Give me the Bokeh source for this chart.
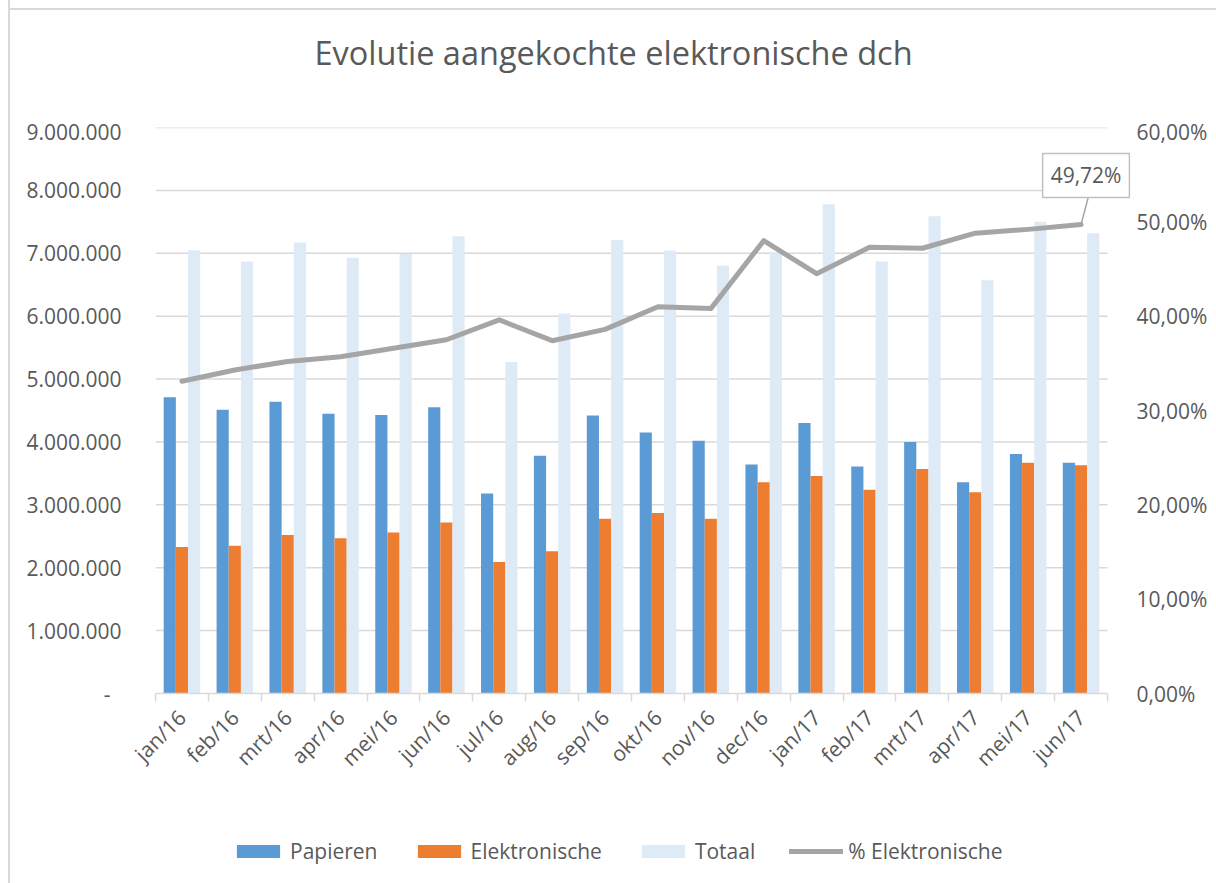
import math
from bokeh.plotting import figure
from bokeh.layouts import column
from bokeh.models import (ColumnDataSource, Range1d, LinearAxis, FixedTicker,
                          CustomJSTickFormatter, Legend, LegendItem, Label)
from bokeh.transform import dodge
from bokeh.embed import file_html
from bokeh.resources import INLINE

months = ["jan/16", "feb/16", "mrt/16", "apr/16", "mei/16", "jun/16", "jul/16", "aug/16",
          "sep/16", "okt/16", "nov/16", "dec/16", "jan/17", "feb/17", "mrt/17", "apr/17",
          "mei/17", "jun/17"]
papieren = [4710000, 4510000, 4640000, 4450000, 4430000, 4550000, 3180000, 3780000,
            4420000, 4150000, 4020000, 3640000, 4300000, 3610000, 4000000, 3360000,
            3810000, 3670000]
elektronische = [2330000, 2350000, 2520000, 2470000, 2560000, 2720000, 2090000, 2260000,
                 2780000, 2870000, 2780000, 3360000, 3460000, 3240000, 3570000, 3200000,
                 3670000, 3630000]
totaal = [7050000, 6870000, 7170000, 6930000, 6990000, 7270000, 5270000, 6040000,
          7210000, 7040000, 6800000, 7020000, 7780000, 6870000, 7590000, 6570000,
          7500000, 7320000]
pct_elektronisch = [0.331, 0.343, 0.352, 0.357, 0.366, 0.375, 0.396, 0.374, 0.386,
                    0.410, 0.408, 0.480, 0.445, 0.473, 0.472, 0.488, 0.492, 0.4972]
left_ticks = [0, 1000000, 2000000, 3000000, 4000000, 5000000, 6000000, 7000000,
              8000000, 9000000]
right_ticks = [0, 0.1, 0.2, 0.3, 0.4, 0.5, 0.6]
title_text = "Evolutie aangekochte elektronische dch"
series_names = ["Papieren", "Elektronische", "Totaal", "% Elektronische"]

TXT = "#595959"
GRID = "#d9d9d9"
FONT = "Open Sans"
C_PAP, C_ELE, C_TOT, C_PCT = "#5b9bd5", "#ed7d31", "#deebf7", "#a5a5a5"

W = 1216
H0, H1, H2 = 117, 667, 99
FL, FR = 155, 1130          # frame left / right edge (page pixels), shared by all strips
CAT_RIGHT = 1107            # right edge of the category area
LINE_V = "linear-gradient(#d9d9d9,#d9d9d9) 8px 0px / 2px 100% no-repeat"
LINE_H = "linear-gradient(#d9d9d9,#d9d9d9) 8px 8px / 100% 2px no-repeat"

n = len(months)
idx = list(range(n))
src = ColumnDataSource(dict(x=idx, pap=papieren, ele=elektronische, tot=totaal,
                            pct=pct_elektronisch))


def strip(height, top_line=False):
    f = figure(width=W, height=height, output_backend="svg", toolbar_location=None,
               x_range=Range1d(FL, FR), y_range=Range1d(height, 0),
               x_axis_type=None, y_axis_type=None, min_border_left=FL,
               min_border_right=W - FR, min_border_top=0, min_border_bottom=0)
    f.grid.visible = False
    f.outline_line_color = None
    f.background_fill_alpha = 0
    f.border_fill_alpha = 0
    bg = (LINE_H + ", " if top_line else "") + LINE_V + ", white"
    f.styles = {"background": bg}
    return f


# ---------------- title strip ----------------
p0 = strip(H0, top_line=True)
p0.add_layout(Label(x=613, y=52, text=title_text, text_align="center",
                    text_baseline="alphabetic", text_font=FONT,
                    text_font_size="32.5px", text_color=TXT))

# ---------------- main chart ----------------
px_per_cat = (CAT_RIGHT - FL) / n
p = figure(width=W, height=H1, output_backend="svg", toolbar_location=None,
           x_range=Range1d(-0.5, -0.5 + (FR - FL) / px_per_cat),
           y_range=Range1d(0, 9000000),
           min_border_left=FL, min_border_right=W - FR, min_border_top=10,
           min_border_bottom=90)
p.outline_line_color = None
p.background_fill_color = "white"
p.border_fill_alpha = 0
p.styles = {"background": LINE_V + ", white"}
p.extra_y_ranges = {"pct": Range1d(0, 0.6)}

xa = p.below[0]
ya = p.left[0]

p.xgrid.visible = False
p.ygrid.visible = False
p.segment(x0=[-0.5] * (len(left_ticks) - 1), x1=[n - 0.5] * (len(left_ticks) - 1),
          y0=left_ticks[1:], y1=left_ticks[1:], line_color=GRID, line_width=1.5)

w = 0.23
p.vbar(x=dodge("x", -w, range=p.x_range), top="pap", width=w, source=src,
       fill_color=C_PAP, line_color=None)
p.vbar(x="x", top="ele", width=w, source=src, fill_color=C_ELE, line_color=None)
p.vbar(x=dodge("x", w, range=p.x_range), top="tot", width=w, source=src,
       fill_color=C_TOT, line_color=None)
p.line(x="x", y="pct", source=src, y_range_name="pct", line_color=C_PCT,
       line_width=5, line_join="round", line_cap="round")

ya.ticker = FixedTicker(ticks=left_ticks)
ya.formatter = CustomJSTickFormatter(code="""
if (tick == 0) { return '-\\u00a0\\u00a0'; }
return String(Math.round(tick)).replace(/\\B(?=(\\d{3})+(?!\\d))/g, '.');
""")
ya.axis_line_color = None
ya.major_tick_line_color = None
ya.minor_tick_line_color = None
ya.major_label_text_font = FONT
ya.major_label_text_font_size = "21px"
ya.major_label_text_color = TXT
ya.major_label_standoff = 28

ra = LinearAxis(y_range_name="pct", ticker=FixedTicker(ticks=right_ticks),
                formatter=CustomJSTickFormatter(code="""
return (tick * 100).toFixed(2).replace('.', ',') + '%';
"""))
ra.axis_line_color = None
ra.major_tick_line_color = None
ra.minor_tick_line_color = None
ra.major_label_text_font = FONT
ra.major_label_text_font_size = "21px"
ra.major_label_text_color = TXT
ra.major_label_standoff = 0
p.add_layout(ra, "right")

xa.bounds = (-0.5, n - 0.5)
xa.ticker = FixedTicker(ticks=idx, minor_ticks=[i - 0.5 for i in range(n + 1)])
xa.major_label_overrides = {i: m for i, m in enumerate(months)}
xa.major_label_orientation = math.pi / 4
xa.major_label_text_font = FONT
xa.major_label_text_font_size = "21px"
xa.major_label_text_color = TXT
xa.major_label_standoff = 12
xa.major_tick_line_color = None
xa.minor_tick_line_color = GRID
xa.minor_tick_line_width = 1.5
xa.minor_tick_in = 0
xa.minor_tick_out = 8
xa.axis_line_color = GRID
xa.axis_line_width = 1.5

last = n - 1
p.segment(x0=[last], y0=[pct_elektronisch[last]], x1=[last + 0.15],
          y1=[pct_elektronisch[last] + 0.0317], y_range_name="pct",
          line_color=C_PCT, line_width=1.5)
p.add_layout(Label(x=last, y=pct_elektronisch[last], y_range_name="pct",
                   text=f"{pct_elektronisch[last]*100:.2f}".replace(".", ",") + "%",
                   x_offset=5, y_offset=49, text_align="center", text_baseline="middle",
                   text_font=FONT, text_font_size="21px", text_color=TXT,
                   background_fill_color="white", border_line_color="#bfbfbf",
                   border_line_width=1.5, padding=8))

# ---------------- legend strip ----------------
p2 = strip(H2)
offscreen = dict(x=[-10000], top=[-10000])
g_pap = p2.vbar(x="x", top="top", width=1, source=ColumnDataSource(offscreen),
                fill_color=C_PAP, line_color=None)
g_ele = p2.vbar(x="x", top="top", width=1, source=ColumnDataSource(offscreen),
                fill_color=C_ELE, line_color=None)
g_tot = p2.vbar(x="x", top="top", width=1, source=ColumnDataSource(offscreen),
                fill_color=C_TOT, line_color=None)
g_pct = p2.line(x="x", y="y", source=ColumnDataSource(dict(x=[-10000, -9999],
                                                           y=[-10000, -10000])),
                line_color=C_PCT, line_width=5, line_cap="round")
legend = Legend(items=[LegendItem(label=s, renderers=[r]) for s, r in
                       zip(series_names, [g_pap, g_ele, g_tot, g_pct])],
                orientation="horizontal", location=(235 - FL - 12, 10))
legend.glyph_width = 54
legend.glyph_height = 16
legend.label_standoff = 5
legend.spacing = 34
legend.padding = 8
legend.margin = 0
legend.label_text_font = FONT
legend.label_text_font_size = "21px"
legend.label_text_color = TXT
legend.border_line_alpha = 0
legend.background_fill_alpha = 0
p2.add_layout(legend, "center")

layout = column(p0, p, p2, spacing=0)
open("out.html", "w").write(file_html(layout, INLINE))
